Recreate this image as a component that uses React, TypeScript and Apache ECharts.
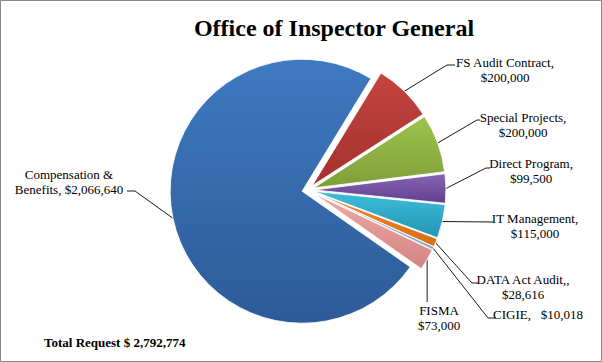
import React, { useEffect, useRef } from "react";
import * as echarts from "echarts";

const categories = [
  "Compensation & Benefits",
  "FS Audit Contract",
  "Special Projects",
  "Direct Program",
  "IT Management",
  "DATA Act Audit",
  "CIGIE",
  "FISMA",
];
const values = [2066640, 200000, 200000, 99500, 115000, 28616, 10018, 73000];
const labelTemplates = [
  "Compensation &\nBenefits, {v}",
  "FS Audit Contract,\n{v}",
  "Special Projects,\n{v}",
  "Direct Program,\n{v}",
  "IT Management,\n{v}",
  "DATA Act Audit,,\n{v}",
  "CIGIE,   {v}",
  "FISMA\n{v}",
];
const titleText = "Office of Inspector General";
const totalPrefix = "Total Request $ ";

// styling / layout (not data)
const topColors = ["#3F79C1", "#C5443F", "#9EC350", "#8765B2", "#3DBEDA", "#F68B2B", "#ABBEDB", "#EEA9A7"];
const bottomColors = ["#2D5B98", "#A2312E", "#7E9F37", "#62408F", "#2395B1", "#D56F14", "#889FC1", "#D48583"];
// label block centre [x, y]
const labelPos: [number, number][] = [
  [69, 182],
  [505, 70],
  [523, 124.5],
  [531, 171],
  [535, 226],
  [523, 287],
  [538, 314],
  [439, 317.5],
];
// leader line extra points after the slice edge point
const leaderTails: ((s: [number, number]) => [number, number][])[] = [
  () => [[135, 191], [127, 191]],
  () => [[447, 65], [455, 65]],
  () => [[477, 120], [480, 120]],
  () => [[486, 168], [490, 168]],
  () => [[493, 222]],
  () => [[472, 283], [478, 283]],
  () => [[488, 318], [496, 318]],
  (s) => [[s[0], 302]],
];

const CX = 308;
const CY = 190;
const R = 132;
const OFFSET = 6;
const START_CW_FROM_TOP = 125; // degrees clockwise from 12 o'clock

const fmt = (v: number) => "$" + v.toLocaleString("en-US");

export default function App() {
  const ref = useRef<HTMLDivElement>(null);
  useEffect(() => {
    document.body.style.margin = "0";
    const chart = echarts.init(ref.current!, null, { renderer: "svg" });
    const total = values.reduce((a, b) => a + b, 0);

    const edgePoints: [number, number][] = [];
    let cum = 0;
    values.forEach((v) => {
      const mid = ((START_CW_FROM_TOP + ((cum + v / 2) / total) * 360) * Math.PI) / 180;
      const rr = R + OFFSET;
      edgePoints.push([CX + rr * Math.sin(mid), CY - rr * Math.cos(mid)]);
      cum += v;
    });

    const serif = "'Liberation Serif', 'Times New Roman', serif";
    const font = "13px " + serif;
    const graphics: any[] = [
      {
        type: "rect",
        shape: { x: 0.5, y: 0.5, width: 601, height: 361 },
        style: { fill: "none", stroke: "#868686", lineWidth: 1 },
        silent: true,
      },
      {
        type: "text",
        x: 334,
        y: 28,
        style: {
          text: titleText,
          font: "bold 24px " + serif,
          fill: "#000",
          align: "center",
          textAlign: "center",
          verticalAlign: "middle",
          textVerticalAlign: "middle",
        },
      },
      {
        type: "text",
        x: 44,
        y: 342,
        style: {
          text: totalPrefix + total.toLocaleString("en-US"),
          font: "bold 13px " + serif,
          fill: "#000",
          align: "left",
          textAlign: "left",
          verticalAlign: "middle",
          textVerticalAlign: "middle",
        },
      },
    ];
    values.forEach((v, i) => {
      const s = edgePoints[i];
      graphics.push({
        type: "polyline",
        shape: { points: [s, ...leaderTails[i](s)] },
        style: { stroke: "#1a1a1a", lineWidth: 1, fill: null },
        silent: true,
      });
      graphics.push({
        type: "text",
        x: labelPos[i][0],
        y: labelPos[i][1],
        style: {
          text: labelTemplates[i].replace("{v}", fmt(v)),
          font,
          lineHeight: 15,
          fill: "#000",
          align: "center",
          textAlign: "center",
          verticalAlign: "middle",
          textVerticalAlign: "middle",
        },
      });
    });

    chart.setOption({
      animation: false,
      backgroundColor: "#fff",
      series: [
        {
          type: "pie",
          center: [CX, CY],
          radius: [0, R],
          startAngle: 90 - START_CW_FROM_TOP,
          clockwise: true,
          selectedMode: "multiple",
          selectedOffset: OFFSET,
          avoidLabelOverlap: false,
          label: { show: false },
          labelLine: { show: false },
          emphasis: { disabled: true },
          itemStyle: { borderColor: "rgba(255,255,255,0.85)", borderWidth: 1 },
          data: categories.map((name, i) => ({
            name,
            value: values[i],
            selected: true,
            itemStyle: {
              color: {
                type: "linear",
                x: 0,
                y: 0,
                x2: 0,
                y2: 1,
                colorStops: [
                  { offset: 0, color: topColors[i] },
                  { offset: 1, color: bottomColors[i] },
                ],
              },
            },
          })),
        },
      ],
      graphic: graphics,
    });
    return () => chart.dispose();
  }, []);
  return (
    <div
      ref={ref}
      style={{ position: "fixed", left: 0, top: 0, width: 602, height: 362 }}
    />
  );
}
